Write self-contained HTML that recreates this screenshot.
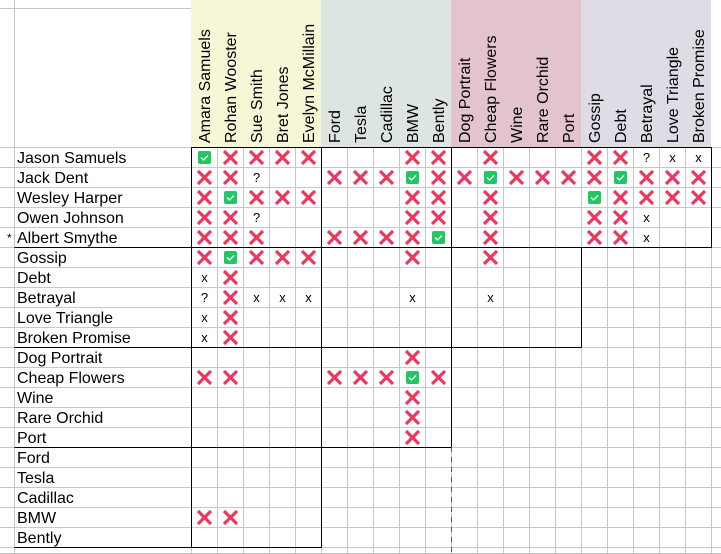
<!DOCTYPE html>
<html><head><meta charset="utf-8">
<style>
html,body{margin:0;padding:0;background:#fff;}
svg{display:block;font-family:"Liberation Sans",sans-serif;}
</style></head>
<body>
<svg id="grid" width="721" height="554" viewBox="0 0 721 554" xmlns="http://www.w3.org/2000/svg"></svg>
<script>
const colLabels = ["Amara Samuels","Rohan Wooster","Sue Smith","Bret Jones","Evelyn McMillain","Ford","Tesla","Cadillac","BMW","Bently","Dog Portrait","Cheap Flowers","Wine","Rare Orchid","Port","Gossip","Debt","Betrayal","Love Triangle","Broken Promise"];
const rowLabels = ["Jason Samuels","Jack Dent","Wesley Harper","Owen Johnson","Albert Smythe","Gossip","Debt","Betrayal","Love Triangle","Broken Promise","Dog Portrait","Cheap Flowers","Wine","Rare Orchid","Port","Ford","Tesla","Cadillac","BMW","Bently"];
// X = red cross, V = green check, x = small x, ? = question, . = empty
const cells = [
"VXXXX...XX.X...XX?xx",
"XX?..XXXVXXVXXXXVXXX",
"XVXXX...XX.X...VXXXX",
"XX?.....XX.X...XXx..",
"XXX..XXXXV.X...XXx..",
"XVXXX...X..X........",
"xX..................",
"?Xxxx...x..x........",
"xX..................",
"xX..................",
"........X...........",
"XX...XXXVX..........",
"........X...........",
"........X...........",
"........X...........",
"....................",
"....................",
"....................",
"XX..................",
"...................."
];
const groupColors = ["#f7f7d7","#dde5e3","#e3c4cc","#e0dce6"];

const svg = document.getElementById('grid');
const NS = "http://www.w3.org/2000/svg";
const X0 = 191, CW = 26, Y0 = 147, RH = 20, LX = 14;
function el(tag, attrs, parent){
  const e = document.createElementNS(NS, tag);
  for (const k in attrs) e.setAttribute(k, attrs[k]);
  (parent||svg).appendChild(e);
  return e;
}
groupColors.forEach((c,g)=>{
  const r = el('rect',{x:X0+g*5*CW,y:0,width:5*CW,height:Y0,fill:c});
  
  
});
const gl = el('g',{stroke:"#c8c8c8","stroke-width":1,"shape-rendering":"crispEdges"});
el('line',{x1:0,y1:8.5,x2:X0,y2:8.5},gl);
el('line',{x1:LX+0.5,y1:0,x2:LX+0.5,y2:554},gl);
for(let r=0;r<=20;r++){ el('line',{x1:0,y1:Y0+r*RH+0.5,x2:721,y2:Y0+r*RH+0.5},gl); }
el('line',{x1:0,y1:553.5,x2:721,y2:553.5},gl);
for(let c=0;c<=20;c++){ const x=X0+c*CW+0.5; el('line',{x1:x,y1:Y0,x2:x,y2:554},gl); }
colLabels.forEach((t,i)=>{
  const cx = X0+i*CW+CW/2+6, cy = 143;
  const tx = el('text',{x:cx,y:cy,transform:`rotate(-90 ${cx} ${cy})`,"font-size":16,fill:"#000"});
  tx.textContent = t;
  
  
});
rowLabels.forEach((t,i)=>{
  const tx = el('text',{x:17,y:Y0+i*RH+16,"font-size":16,fill:"#000"});
  tx.textContent = t;
  
  
});
const ast = el('text',{x:7,y:Y0+4*RH+15,"font-size":12,fill:"#000"});
ast.textContent = "*";


cells.forEach((row,r)=>{
  for(let c=0;c<row.length;c++){
    const ch=row[c]; if(ch==='.') continue;
    const cx = X0+c*CW+CW/2+0.5, cy = Y0+r*RH+RH/2+0.5;
    let g;
    if(ch==='X'){
      g = el('g',{stroke:"#f3355b","stroke-width":3.2,"stroke-linecap":"butt"});
      el('line',{x1:cx-6.5,y1:cy-6.5,x2:cx+6.5,y2:cy+6.5},g);
      el('line',{x1:cx+6.5,y1:cy-6.5,x2:cx-6.5,y2:cy+6.5},g);
      
    } else if(ch==='V'){
      g = el('g',{});
      el('rect',{x:cx-6.5,y:cy-6.5,width:13,height:13,rx:2,fill:"#1fc862"},g);
      el('polyline',{points:`${cx-3.5},${cy} ${cx-1},${cy+2.5} ${cx+3.5},${cy-2}`,fill:"none",stroke:"#fff","stroke-width":1.3},g);
      
    } else {
      g = el('text',{x:cx,y:cy+4.5,"font-size":13,"text-anchor":"middle",fill:"#000"});
      g.textContent = ch;
      
    }
    
  }
});
const bl = el('g',{stroke:"#000","stroke-width":1.3,fill:"none","shape-rendering":"crispEdges"});
function L(x1,y1,x2,y2){ el('line',{x1:x1+0.5,y1:y1+0.5,x2:x2+0.5,y2:y2+0.5},bl); }
L(X0,Y0,711,Y0);
L(LX,247,711,247); L(711,Y0,711,247);
L(LX,347,581,347); L(581,247,581,347);
L(LX,447,451,447); L(451,347,451,447);
L(LX,547,321,547);
L(X0,Y0,X0,547);
L(321,Y0,321,547);
L(451,Y0,451,347);
el('line',{x1:451.5,y1:447,x2:451.5,y2:554,stroke:"#555","stroke-width":1,"stroke-dasharray":"5,5"});
</script>
</body></html>
